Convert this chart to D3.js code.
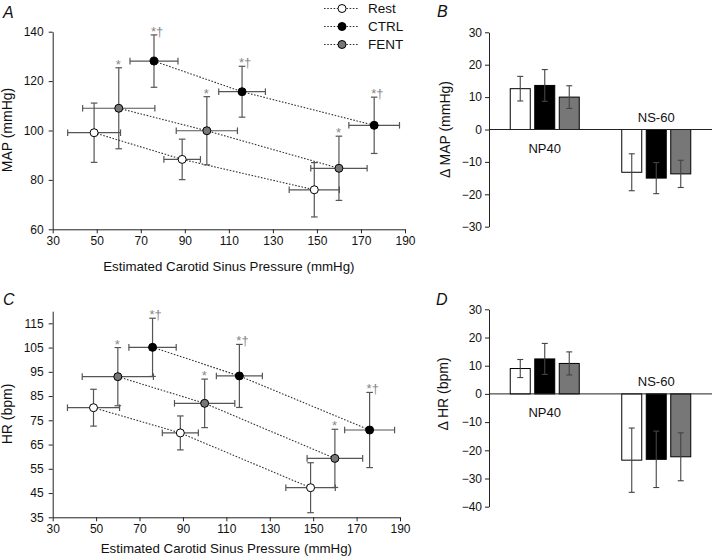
<!DOCTYPE html>
<html>
<head>
<meta charset="utf-8">
<script src="https://cdn.jsdelivr.net/npm/d3@7"></script>
<style>
  body { margin: 0; background: #fff; }
  text { font-family: "Liberation Sans", Arial, sans-serif; }
</style>
</head>
<body>
<svg id="chart" width="713" height="558"></svg>
<script>
// ---- data ----
var series = ["Rest", "CTRL", "FENT"];
var seriesFill = ["#fff", "#000", "#777"];

// estimated carotid sinus pressure, mean and SD (x of panels A and C)
var ecspRest = [48.8, 88.8, 148.8], ecspRestSd = [12, 8.3, 11.4];
var ecspCtrl = [76, 116, 176],      ecspCtrlSd = [10.9, 10.6, 11.5];
var ecspFent = [60, 100, 160],      ecspFentSd = [16.4, 13.9, 12.8];

// panel A: MAP
var mapRest = [99.1, 88.3, 76.0],  mapRestSd = [12, 8.2, 11];
var mapCtrl = [128.1, 115.7, 102.1], mapCtrlSd = [10.6, 10.3, 11.4];
var mapFent = [109, 99.9, 84.7],   mapFentSd = [16.4, 13.8, 13];

// panel C: HR
var hrRest = [80.2, 69.8, 47.2], hrRestSd = [7.6, 7, 10.3];
var hrCtrl = [105.1, 93.3, 71],  hrCtrlSd = [12, 13, 15.5];
var hrFent = [93, 82, 59.3],     hrFentSd = [12, 10, 12];

var markRest = ["", "", ""];
var markCtrl = ["*\u2020", "*\u2020", "*\u2020"];
var markFent = ["*", "*", "*"];

// panels B and D: change from rest
var stimuli = ["NP40", "NS-60"];
var dMapRest = [12.6, -13.2], dMapRestSd = [3.8, 5.7];
var dMapCtrl = [13.6, -15.0], dMapCtrlSd = [4.9, 4.8];
var dMapFent = [10.0, -13.7], dMapFentSd = [3.5, 4.2];
var dHrRest = [9.0, -23.5],  dHrRestSd = [3.2, 11.4];
var dHrCtrl = [12.4, -23.2], dHrCtrlSd = [5.5, 10];
var dHrFent = [10.8, -22.3], dHrFentSd = [4.1, 8.5];

var xTicks = [30, 50, 70, 90, 110, 130, 150, 170, 190];

var svg = d3.select("#chart");
svg.append("rect").attr("width", 713).attr("height", 558).attr("fill", "#fff");

var errColor = "#555";
var cap = 3.3;

function styleAxis(g) {
  g.selectAll("path, line").attr("stroke", "#222").attr("stroke-width", 1);
  g.selectAll("text").attr("font-size", 12).attr("fill", "#111")
    .attr("font-family", "Liberation Sans, Arial, sans-serif");
}

// scatter panel with x and y error bars
function scatter(opts) {
  var x = d3.scaleLinear().domain([30, 190]).range(opts.xRange);
  var y = d3.scaleLinear().domain(opts.yDomain).range(opts.yRange);
  var g = svg.append("g");

  g.append("g").attr("transform", "translate(0," + opts.yRange[0] + ")")
    .call(d3.axisBottom(x).tickValues(xTicks).tickSize(4).tickSizeOuter(0).tickPadding(3))
    .call(styleAxis);
  g.append("g").attr("transform", "translate(" + opts.xRange[0] + ",0)")
    .call(d3.axisLeft(y).tickValues(opts.yTicks).tickSize(4).tickSizeOuter(0).tickPadding(5))
    .call(styleAxis);

  g.append("text").attr("x", (opts.xRange[0] + opts.xRange[1]) / 2).attr("y", opts.xTitleY)
    .attr("text-anchor", "middle").attr("font-size", 13.3).attr("fill", "#111")
    .text("Estimated Carotid Sinus Pressure (mmHg)");
  g.append("text").attr("transform", "translate(" + opts.yTitleX + "," + opts.yTitleY + ") rotate(-90)")
    .attr("text-anchor", "middle").attr("font-size", 14).attr("fill", "#111")
    .text(opts.yTitle);
  g.append("text").attr("x", opts.letterX).attr("y", opts.letterY)
    .attr("font-size", 16).attr("font-style", "italic").attr("fill", "#111")
    .text(opts.letter);

  var sets = opts.sets.map(function(s) {
    return s.xs.map(function(d, i) {
      return { x: d, xe: s.xe[i], y: s.ys[i], ye: s.ye[i], mark: s.marks[i], fill: s.fill };
    });
  });

  var line = d3.line().x(function(d) { return x(d.x); }).y(function(d) { return y(d.y); });
  sets.forEach(function(pts) {
    g.append("path").attr("d", line(pts)).attr("fill", "none")
      .attr("stroke", "#333").attr("stroke-width", 1.1).attr("stroke-dasharray", "1.6,1.6");
  });

  sets.forEach(function(pts) {
    var e = g.append("g").attr("stroke", errColor).attr("stroke-width", 1.2);
    pts.forEach(function(p) {
      var cx = x(p.x), cy = y(p.y);
      var x0 = x(p.x - p.xe), x1 = x(p.x + p.xe), y0 = y(p.y - p.ye), y1 = y(p.y + p.ye);
      e.append("line").attr("x1", x0).attr("x2", x1).attr("y1", cy).attr("y2", cy);
      e.append("line").attr("x1", x0).attr("x2", x0).attr("y1", cy - cap).attr("y2", cy + cap);
      e.append("line").attr("x1", x1).attr("x2", x1).attr("y1", cy - cap).attr("y2", cy + cap);
      e.append("line").attr("x1", cx).attr("x2", cx).attr("y1", y0).attr("y2", y1);
      e.append("line").attr("x1", cx - cap).attr("x2", cx + cap).attr("y1", y0).attr("y2", y0);
      e.append("line").attr("x1", cx - cap).attr("x2", cx + cap).attr("y1", y1).attr("y2", y1);
      if (p.mark) {
        g.append("text").attr("x", cx - 3).attr("y", y1 + 1)
          .attr("font-size", 13).attr("fill", "#888").text(p.mark);
      }
    });
  });

  sets.forEach(function(pts) {
    g.selectAll(null).data(pts).enter().append("circle")
      .attr("cx", function(d) { return x(d.x); })
      .attr("cy", function(d) { return y(d.y); })
      .attr("r", 4).attr("fill", function(d) { return d.fill; })
      .attr("stroke", "#000").attr("stroke-width", 1);
  });
}

// grouped bar panel
function bars(opts) {
  var x0 = d3.scaleBand().domain(stimuli).range([489, 712]).padding(0);
  var x1 = d3.scaleBand().domain(series).range([-34.5, 34.5]).paddingInner(0.1837).paddingOuter(0);
  var y = d3.scaleLinear().domain(opts.yDomain).range(opts.yRange);
  var g = svg.append("g");

  g.append("g").attr("transform", "translate(489,0)")
    .call(d3.axisLeft(y).tickValues(opts.yTicks).tickSize(4).tickSizeOuter(0).tickPadding(3))
    .call(styleAxis);

  opts.vals.forEach(function(vals, si) {
    stimuli.forEach(function(st, i) {
      var v = vals[i], sd = opts.sds[si][i];
      var bx = x0(st) + x0.bandwidth() / 2 + x1(series[si]);
      g.append("rect").attr("x", bx).attr("width", x1.bandwidth())
        .attr("y", y(Math.max(0, v))).attr("height", Math.abs(y(v) - y(0)))
        .attr("fill", seriesFill[si]).attr("stroke", "#000").attr("stroke-width", 1);
      var cx = bx + x1.bandwidth() / 2;
      var e = g.append("g").attr("stroke", "#444").attr("stroke-width", 1.1);
      e.append("line").attr("x1", cx).attr("x2", cx).attr("y1", y(v - sd)).attr("y2", y(v + sd));
      e.append("line").attr("x1", cx - 3).attr("x2", cx + 3).attr("y1", y(v - sd)).attr("y2", y(v - sd));
      e.append("line").attr("x1", cx - 3).attr("x2", cx + 3).attr("y1", y(v + sd)).attr("y2", y(v + sd));
    });
  });

  g.append("line").attr("x1", 489).attr("x2", 712).attr("y1", y(0)).attr("y2", y(0))
    .attr("stroke", "#222").attr("stroke-width", 1);

  g.append("text").attr("x", x0("NP40") + x0.bandwidth() / 2).attr("y", y(0) + 23)
    .attr("text-anchor", "middle").attr("font-size", 13).attr("fill", "#111").text("NP40");
  g.append("text").attr("x", x0("NS-60") + x0.bandwidth() / 2).attr("y", y(0) - 8)
    .attr("text-anchor", "middle").attr("font-size", 13).attr("fill", "#111").text("NS-60");

  g.append("text").attr("transform", "translate(" + opts.yTitleX + "," + y(0) + ") rotate(-90)")
    .attr("text-anchor", "middle").attr("font-size", 14).attr("fill", "#111").text(opts.yTitle);
  g.append("text").attr("x", opts.letterX).attr("y", opts.letterY)
    .attr("font-size", 16).attr("font-style", "italic").attr("fill", "#111").text(opts.letter);
}

scatter({
  xRange: [52.7, 405], yDomain: [60, 140], yRange: [229.3, 31.7],
  yTicks: [60, 80, 100, 120, 140], yTitle: "MAP (mmHg)",
  xTitleY: 271, yTitleX: 12, yTitleY: 130, letter: "A", letterX: 3, letterY: 18,
  sets: [
    { xs: ecspRest, xe: ecspRestSd, ys: mapRest, ye: mapRestSd, marks: markRest, fill: seriesFill[0] },
    { xs: ecspFent, xe: ecspFentSd, ys: mapFent, ye: mapFentSd, marks: markFent, fill: seriesFill[2] },
    { xs: ecspCtrl, xe: ecspCtrlSd, ys: mapCtrl, ye: mapCtrlSd, marks: markCtrl, fill: seriesFill[1] }
  ]
});

scatter({
  xRange: [52.7, 400], yDomain: [35, 120], yRange: [517.3, 311.2],
  yTicks: [35, 45, 55, 65, 75, 85, 95, 105, 115], yTitle: "HR (bpm)",
  xTitleY: 553, yTitleX: 12, yTitleY: 414, letter: "C", letterX: 3, letterY: 305,
  sets: [
    { xs: ecspRest, xe: ecspRestSd, ys: hrRest, ye: hrRestSd, marks: markRest, fill: seriesFill[0] },
    { xs: ecspFent, xe: ecspFentSd, ys: hrFent, ye: hrFentSd, marks: markFent, fill: seriesFill[2] },
    { xs: ecspCtrl, xe: ecspCtrlSd, ys: hrCtrl, ye: hrCtrlSd, marks: markCtrl, fill: seriesFill[1] }
  ]
});

bars({
  yDomain: [-30, 30], yRange: [226.7, 32.3], yTicks: [-30, -20, -10, 0, 10, 20, 30],
  vals: [dMapRest, dMapCtrl, dMapFent], sds: [dMapRestSd, dMapCtrlSd, dMapFentSd],
  yTitle: "\u0394 MAP (mmHg)", yTitleX: 450, letter: "B", letterX: 437, letterY: 17
});

bars({
  yDomain: [-40, 30], yRange: [506.7, 309.3], yTicks: [-40, -30, -20, -10, 0, 10, 20, 30],
  vals: [dHrRest, dHrCtrl, dHrFent], sds: [dHrRestSd, dHrCtrlSd, dHrFentSd],
  yTitle: "\u0394 HR (bpm)", yTitleX: 448, letter: "D", letterX: 436, letterY: 305
});

// legend
var legend = svg.append("g");
series.forEach(function(s, i) {
  var ly = 8.5 + i * 18;
  legend.append("line").attr("x1", 324).attr("x2", 358).attr("y1", ly).attr("y2", ly)
    .attr("stroke", "#333").attr("stroke-width", 1.1).attr("stroke-dasharray", "1.6,1.6");
  legend.append("circle").attr("cx", 342).attr("cy", ly).attr("r", 4)
    .attr("fill", seriesFill[i]).attr("stroke", "#000");
  legend.append("text").attr("x", 368).attr("y", ly + 4.6)
    .attr("font-size", 13.5).attr("fill", "#111").text(s);
});
</script>
</body>
</html>
